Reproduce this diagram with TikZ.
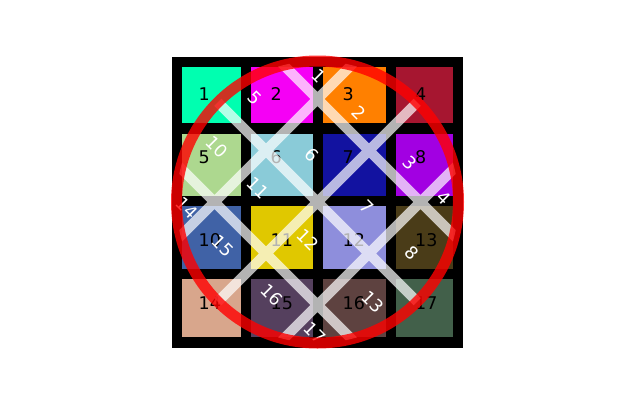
\documentclass[tikz,border=0pt]{standalone}
\usepackage{fontspec}
\setmainfont{DejaVu Sans}
\definecolor{c1}{RGB}{0,255,176}
\definecolor{c2}{RGB}{245,0,245}
\definecolor{c3}{RGB}{255,128,0}
\definecolor{c4}{RGB}{166,22,48}
\definecolor{c5}{RGB}{173,216,143}
\definecolor{c6}{RGB}{138,203,216}
\definecolor{c7}{RGB}{18,18,160}
\definecolor{c8}{RGB}{162,0,226}
\definecolor{c10}{RGB}{64,98,166}
\definecolor{c11}{RGB}{224,200,0}
\definecolor{c12}{RGB}{142,142,220}
\definecolor{c13}{RGB}{74,60,24}
\definecolor{c14}{RGB}{216,166,140}
\definecolor{c15}{RGB}{85,64,94}
\definecolor{c16}{RGB}{94,66,64}
\definecolor{c17}{RGB}{66,96,74}
\begin{document}
\begin{tikzpicture}[x=1pt,y=-1pt,
  blab/.style={anchor=base west, inner sep=0pt, font=\fontsize{17.5}{20}\selectfont, text=black},
  wlab/.style={anchor=center, inner sep=0pt, rotate=-45, font=\fontsize{17.5}{20}\selectfont, text=white},
  gridline/.style={white, line width=10pt, opacity=0.7},
  ringstyle/.style={red, line width=11pt, opacity=0.8}]
\useasboundingbox (0,0) rectangle (640,400);
\fill[black] (172,57) rectangle (463,348);
% cells
\fill[c1] (182,67) rectangle (241,123);
\fill[c2] (251,67) rectangle (313,123);
\fill[c3] (323,67) rectangle (386,123);
\fill[c4] (396,67) rectangle (453,123);
\fill[c5] (182,134) rectangle (241,196);
\fill[c6] (251,134) rectangle (313,196);
\fill[c7] (323,134) rectangle (386,196);
\fill[c8] (396,134) rectangle (453,196);
\fill[c10] (182,206) rectangle (241,269);
\fill[c11] (251,206) rectangle (313,269);
\fill[c12] (323,206) rectangle (386,269);
\fill[c13] (396,206) rectangle (453,269);
\fill[c14] (182,279) rectangle (241,337);
\fill[c15] (251,279) rectangle (313,337);
\fill[c16] (323,279) rectangle (386,337);
\fill[c17] (396,279) rectangle (453,337);
% black labels
\node[blab] (b1) at (198.5,100.5) {1};
\node[blab] (b2) at (270.5,100.5) {2};
\node[blab] (b3) at (342.5,100.5) {3};
\node[blab] (b4) at (415,100.5) {4};
\node[blab] (b5) at (198.5,163.5) {5};
\node[blab] (b6) at (270.5,163.5) {6};
\node[blab] (b7) at (342.5,163.5) {7};
\node[blab] (b8) at (415,163.5) {8};
\node[blab] (b10) at (198.5,246.5) {10};
\node[blab] (b11) at (270.5,246.5) {11};
\node[blab] (b12) at (342.5,246.5) {12};
\node[blab] (b13) at (415,246.5) {13};
\node[blab] (b14) at (198.5,309.5) {14};
\node[blab] (b15) at (270.5,309.5) {15};
\node[blab] (b16) at (342.5,309.5) {16};
\node[blab] (b17) at (415,309.5) {17};
% rotated overlay lattice, clipped to the circle
\begin{scope}
\clip (317.5,202) circle[radius=141];
\draw[gridline]
  (106,93.5) -- (426,413.5)
  (157.5,42) -- (477.5,362)
  (209,-9.5) -- (529,310.5)
  (106,310.5) -- (426,-9.5)
  (157.5,362) -- (477.5,42)
  (209,413.5) -- (529,93.5);
\end{scope}
% white rotated labels
\node[wlab] (w1) at (319,76) {1};
\node[wlab] (w2) at (359,113) {2};
\node[wlab] (w3) at (410,163) {3};
\node[wlab] (w4) at (444,198) {4};
\node[wlab] (w5) at (255,98) {5};
\node[wlab] (w6) at (312,155) {6};
\node[wlab] (w7) at (367,207) {7};
\node[wlab] (w8) at (412,253) {8};
\node[wlab] (w10) at (217,147) {10};
\node[wlab] (w11) at (258,188) {11};
\node[wlab] (w12) at (308,240) {12};
\node[wlab] (w13) at (373,302) {13};
\node[wlab] (w14) at (187,208) {14};
\node[wlab] (w15) at (223,246) {15};
\node[wlab] (w16) at (272,295) {16};
\node[wlab] (w17) at (315,333) {17};
% red ring
\draw[ringstyle] (317.5,202) circle[radius=141];
\end{tikzpicture}
\end{document}
